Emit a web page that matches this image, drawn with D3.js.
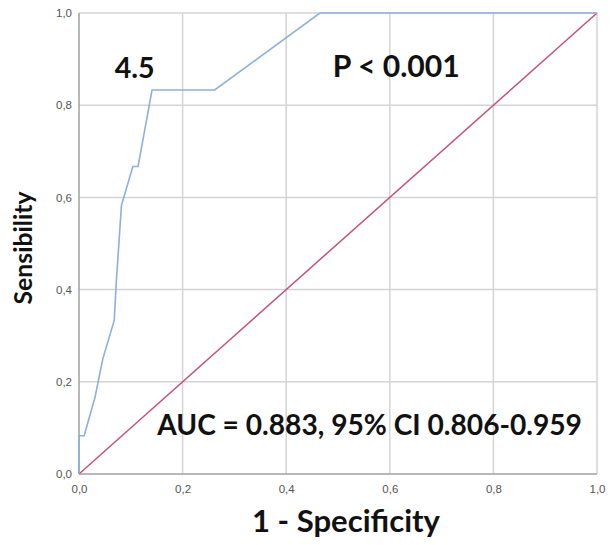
<!DOCTYPE html>
<html><head><meta charset="utf-8">
<script src="https://cdn.jsdelivr.net/npm/d3@7"></script>
<style>body{margin:0;background:#fff}svg{display:block}</style>
</head><body><svg id="c" width="610" height="545"></svg>
<script>
const fpr = [0, 0, 0.010, 0.031, 0.046, 0.068, 0.072, 0.082, 0.104, 0.114, 0.141, 0.262, 0.465, 1.0];
const tpr = [0, 0.083, 0.083, 0.167, 0.25, 0.333, 0.417, 0.583, 0.667, 0.667, 0.833, 0.833, 1.0, 1.0];
const refX = [0, 1];
const refY = [0, 1];
const ticks = [0, 0.2, 0.4, 0.6, 0.8, 1.0];
const tickLabels = ["0,0", "0,2", "0,4", "0,6", "0,8", "1,0"];
const xTitle = "1 - Specificity";
const yTitle = "Sensibility";
const notes = [
  {text: "4.5", x: 0.069, y: 0.858, w: 40},
  {text: "P < 0.001", x: 0.49, y: 0.862, w: 127},
  {text: "AUC = 0.883, 95% CI 0.806-0.959", x: 0.151, y: 0.085, w: 425}
];

const svg = d3.select("#c");
const L = 79, R = 597, T = 13, B = 474;
const x = d3.scaleLinear().domain([0, 1]).range([L, R]);
const y = d3.scaleLinear().domain([0, 1]).range([B, T]);

// gridlines
svg.append("g").selectAll("line").data(ticks.slice(1)).join("line")
  .attr("x1", d => x(d)).attr("x2", d => x(d)).attr("y1", T).attr("y2", B)
  .attr("stroke", "#d4d4d4").attr("stroke-width", 1.5);
svg.append("g").selectAll("line").data(ticks.slice(1)).join("line")
  .attr("y1", d => y(d)).attr("y2", d => y(d)).attr("x1", L).attr("x2", R)
  .attr("stroke", "#d4d4d4").attr("stroke-width", 1.5);

// frame
svg.append("line").attr("x1", L).attr("x2", L).attr("y1", T).attr("y2", B).attr("stroke", "#a0a0a0").attr("stroke-width", 1.5);
svg.append("line").attr("x1", L).attr("x2", R).attr("y1", B).attr("y2", B).attr("stroke", "#a0a0a0").attr("stroke-width", 1.5);

// axes labels
const xa = svg.append("g").attr("transform", `translate(0,${B})`)
  .call(d3.axisBottom(x).tickValues(ticks).tickFormat((d, i) => tickLabels[i]).tickSize(0).tickPadding(11));
const ya = svg.append("g").attr("transform", `translate(${L},0)`)
  .call(d3.axisLeft(y).tickValues(ticks).tickFormat((d, i) => tickLabels[i]).tickSize(0).tickPadding(7));
[xa, ya].forEach(a => {
  a.select(".domain").remove();
  a.selectAll("text").attr("font-family", "Liberation Sans, Arial, sans-serif").attr("font-size", 11.5).attr("fill", "#555");
});

// lines
const line = d3.line().x(d => x(d[0])).y(d => y(d[1]));
svg.append("path").datum(refX.map((v, i) => [v, refY[i]])).attr("d", line)
  .attr("fill", "none").attr("stroke", "#c9507a").attr("stroke-width", 1.5);
svg.append("path").datum(fpr.map((v, i) => [v, tpr[i]])).attr("d", line)
  .attr("fill", "none").attr("stroke", "#8eb0d9").attr("stroke-width", 1.6);

function fit(t, w) {
  const n = t.node(); const fs = +t.attr("font-size");
  const len = n.getComputedTextLength();
  t.attr("font-size", fs * w / len);
}
const FF = "Lato, 'Open Sans', sans-serif";
notes.forEach(n => {
  const t = svg.append("text").attr("x", x(n.x)).attr("y", y(n.y)).attr("font-family", FF)
    .attr("font-weight", "bold").attr("font-size", 22).attr("fill", "#111").text(n.text);
  fit(t, n.w);
});

const xt = svg.append("text").attr("x", 346).attr("y", 532).attr("text-anchor", "middle")
  .attr("font-family", FF).attr("font-weight", "bold").attr("font-size", 22).attr("fill", "#111").text(xTitle);
fit(xt, 188);
const yt = svg.append("text").attr("transform", "translate(32,248) rotate(-90)").attr("text-anchor", "middle")
  .attr("font-family", FF).attr("font-weight", "bold").attr("font-size", 22).attr("fill", "#111").text(yTitle);
fit(yt, 113);
</script></body></html>
